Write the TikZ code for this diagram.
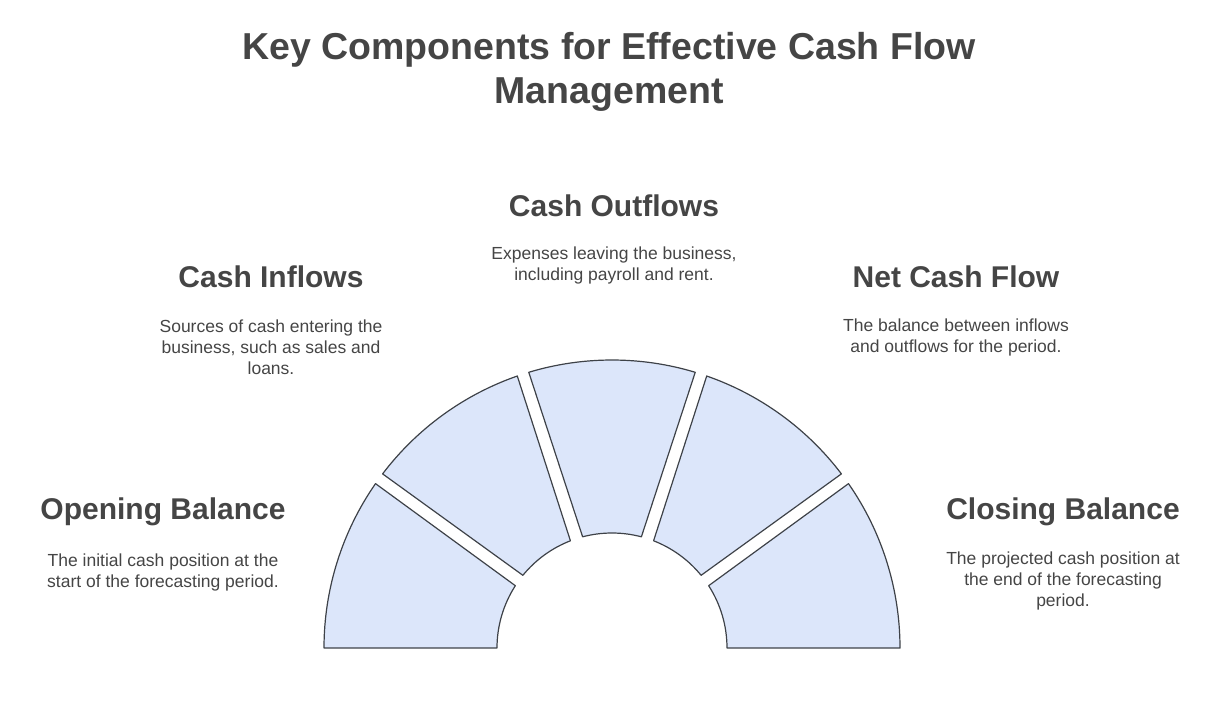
\documentclass[tikz,border=0pt]{standalone}
\usepackage{fontspec}
\setmainfont{Liberation Sans}
\definecolor{textgray}{HTML}{454545}
\definecolor{segfill}{HTML}{DCE6FA}
\definecolor{segline}{HTML}{3E4248}
\tikzstyle{title} = [font=\bfseries\fontsize{37.5}{44}\selectfont, text=textgray, align=center]
\tikzstyle{heading} = [font=\bfseries\fontsize{30}{34}\selectfont, text=textgray]
\tikzstyle{body} = [font=\fontsize{17.5}{21}\selectfont, text=textgray, align=center]
\tikzstyle{segment} = [fill=segfill, draw=segline, line width=1.2pt, line join=round]

\begin{document}
\begin{tikzpicture}[x=1pt, y=1pt]
	\useasboundingbox (0,0) rectangle (1226,723);
	% Title
	\node [title] (Title) at (609,651) {Key Components for Effective Cash Flow\\Management};
	% Place headings
	\node [heading] (OpeningBalance) at (163,211) {Opening Balance};
	\node [heading] (CashInflows) at (271,446) {Cash Inflows};
	\node [heading] (CashOutflows) at (614,517) {Cash Outflows};
	\node [heading] (NetCashFlow) at (956,446) {Net Cash Flow};
	\node [heading] (ClosingBalance) at (1063,211) {Closing Balance};
	% Place descriptions
	\node [body, below of=OpeningBalance, node distance=60pt] (OpeningText) {The initial cash position at the\\start of the forecasting period.};
	\node [body, below of=CashInflows, node distance=70pt] (InflowsText) {Sources of cash entering the\\business, such as sales and\\loans.};
	\node [body, below of=CashOutflows, node distance=59pt] (OutflowsText) {Expenses leaving the business,\\including payroll and rent.};
	\node [body, below of=NetCashFlow, node distance=60pt] (NetText) {The balance between inflows\\and outflows for the period.};
	\node [body, below of=ClosingBalance, node distance=69pt] (ClosingText) {The projected cash position at\\the end of the forecasting\\period.};
	% Draw segments
	\foreach \i in {0,...,4} {
		\pgfmathsetmacro\sa{180-36*(\i+1)}
		\pgfmathsetmacro\ea{180-36*\i}
		\pgfmathsetmacro\gis{\i==4 ? 0 : 3.2}
		\pgfmathsetmacro\gie{\i==0 ? 0 : 3.2}
		\pgfmathsetmacro\gos{\i==4 ? 0 : 1.2}
		\pgfmathsetmacro\goe{\i==0 ? 0 : 1.2}
		\draw [segment, shift={(612,75)}] (\sa+\gis:115pt) arc[start angle=\sa+\gis, end angle=\ea-\gie, radius=115pt]
			-- (\ea-\goe:288pt) arc[start angle=\ea-\goe, end angle=\sa+\gos, radius=288pt] -- cycle;
	}
\end{tikzpicture}
\end{document}
